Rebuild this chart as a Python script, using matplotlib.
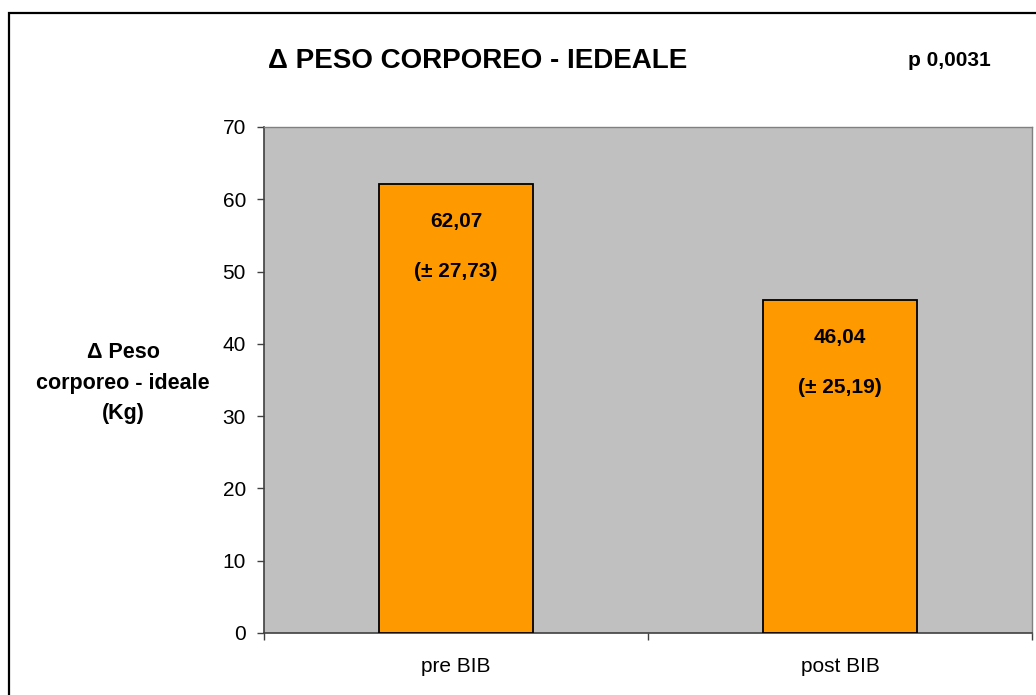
import matplotlib.pyplot as plt
from matplotlib.patches import Rectangle

plt.rcParams['font.family'] = ['Liberation Sans', 'DejaVu Sans']

# Data
categories = ['pre BIB', 'post BIB']
means = [62.07, 46.04]
sds = [27.73, 25.19]
mean_labels = ['62,07', '46,04']
sd_labels = ['(± 27,73)', '(± 25,19)']
yticks = [0, 10, 20, 30, 40, 50, 60, 70]

fig = plt.figure(figsize=(10.36, 6.95), dpi=100)
ax = fig.add_axes([264 / 1036, 62 / 695, 768 / 1036, 506 / 695])

# outer frame
fig.patches.append(Rectangle((9 / 1036, -0.05), 1.2, 0.05 + 682 / 695,
                             transform=fig.transFigure, fill=False,
                             edgecolor='black', linewidth=1.6))

ax.set_facecolor('#C0C0C0')
x = range(len(categories))
ax.bar(x, means, width=0.4, color='#FF9900', edgecolor='black', linewidth=1.3, zorder=3)

for i in x:
    ax.annotate(mean_labels[i], (i, means[i]), xytext=(0, -27), textcoords='offset points',
                ha='center', va='center', fontsize=15, fontweight='bold', zorder=4)
    ax.annotate(sd_labels[i], (i, means[i]), xytext=(0, -63), textcoords='offset points',
                ha='center', va='center', fontsize=15, fontweight='bold', zorder=4)

ax.set_xlim(-0.5, 1.5)
ax.set_ylim(0, 70)
ax.set_yticks(yticks)
ax.set_xticks([0, 1])
ax.set_xticklabels(categories)
ax.set_xticks([-0.5, 0.5, 1.5], minor=True)
ax.tick_params(axis='x', which='major', length=0, pad=17, labelsize=15)
ax.tick_params(axis='x', which='minor', length=5, width=1, color='#404040', direction='out')
ax.tick_params(axis='y', length=5, width=1, color='#404040', pad=8, labelsize=15)

for s in ['top', 'right']:
    ax.spines[s].set_color('#808080')
    ax.spines[s].set_linewidth(1)
for s in ['left', 'bottom']:
    ax.spines[s].set_color('#404040')
    ax.spines[s].set_linewidth(1.2)

fig.text(478 / 1036, 1 - 61 / 695, 'Δ PESO CORPOREO - IEDEALE', ha='center', va='center',
         fontsize=20, fontweight='bold')
fig.text(949 / 1036, 1 - 60 / 695, 'p 0,0031', ha='center', va='center',
         fontsize=15, fontweight='bold')
fig.text(123 / 1036, 1 - 383 / 695, 'Δ Peso\ncorporeo - ideale\n(Kg)', ha='center', va='center',
         multialignment='center', fontsize=15.5, fontweight='bold', linespacing=1.6)

fig.savefig('out.png', dpi=100)
